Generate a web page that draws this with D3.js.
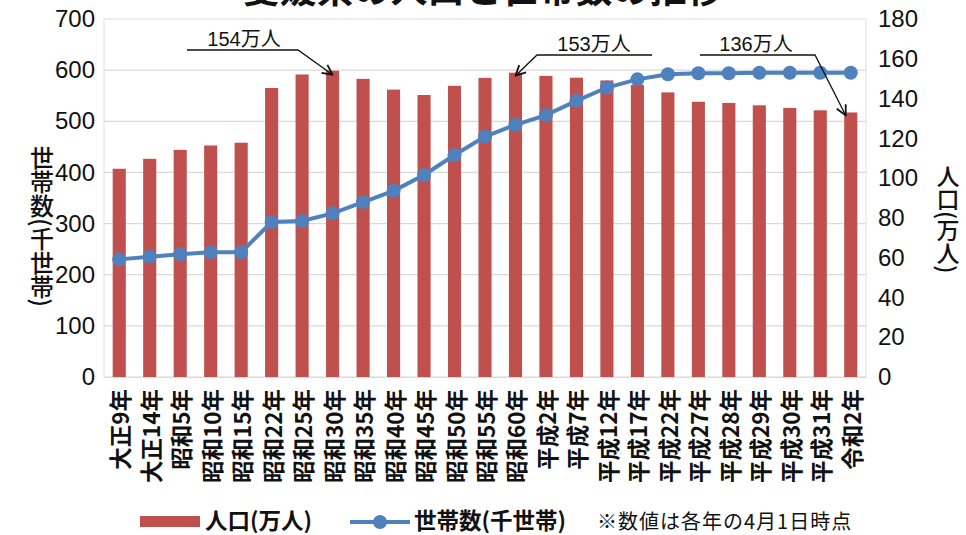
<!DOCTYPE html>
<html><head><meta charset="utf-8">
<script src="https://cdn.jsdelivr.net/npm/d3@7/dist/d3.min.js"></script>
<style>
html,body{margin:0;padding:0;background:#fff;}
svg{display:block;}
</style>
</head><body>
<svg id="c" width="966" height="535"></svg>
<script>
const categories = ["大正9年","大正14年","昭和5年","昭和10年","昭和15年","昭和22年","昭和25年","昭和30年","昭和35年","昭和40年","昭和45年","昭和50年","昭和55年","昭和60年","平成2年","平成7年","平成12年","平成17年","平成22年","平成27年","平成28年","平成29年","平成30年","平成31年","令和2年"];
// 人口(万人) - right axis
const population = [104.7,109.7,114.2,116.4,117.8,145.3,152.1,154.0,149.9,144.5,141.8,146.4,150.4,153.0,151.4,150.5,149.1,146.8,143.1,138.4,137.8,136.6,135.3,134.1,133.0];
// 世帯数(千世帯) - left axis
const households = [230,235,240,244,244,303,305,320,342,364,395,434,470,493,512,540,566,582,592,594,594,595,595,595,595];
const leftTicks = [0,100,200,300,400,500,600,700];
const rightTicks = [0,20,40,60,80,100,120,140,160,180];
const annotations = [
  {label:"154万人", cat:"昭和30年"},
  {label:"153万人", cat:"昭和60年"},
  {label:"136万人", cat:"令和2年"}
];

const svg = d3.select("#c");
const L = 104, R = 866, T = 19, B = 377;
const numFont = "'Liberation Sans Narrow','Liberation Sans',Arial,'Noto Sans CJK JP',sans-serif";
const cjkFont = "'Noto Sans CJK JP',sans-serif";
const red = "#C0504D", blue = "#4F81BD";

const x = d3.scaleBand().domain(categories).range([L, R]).paddingInner(0.57).paddingOuter(0.285);
const yL = d3.scaleLinear().domain([0,700]).range([B, T]);
const yR = d3.scaleLinear().domain([0,180]).range([B, T]);
const cx = c => x(c) + x.bandwidth()/2;

// title (cut off at top, as in the reference)
svg.append("text").attr("x", 483).attr("y", 3).attr("text-anchor","middle")
  .style("font-family", cjkFont).style("font-weight","bold").style("font-size","37px").attr("fill","#111")
  .text("愛媛県の人口と世帯数の推移");

// gridlines
svg.append("g").selectAll("line").data(leftTicks).join("line")
  .attr("x1", L).attr("x2", R).attr("y1", d=>yL(d)).attr("y2", d=>yL(d))
  .attr("stroke", "#d9d9d9").attr("stroke-width", 1.2);
svg.append("line").attr("x1",L).attr("x2",L).attr("y1",T).attr("y2",B).attr("stroke","#e0e0e0");
svg.append("line").attr("x1",R).attr("x2",R).attr("y1",T).attr("y2",B).attr("stroke","#e0e0e0");

// left axis
const gl = svg.append("g").attr("transform", `translate(${L},0)`)
  .call(d3.axisLeft(yL).tickValues(leftTicks).tickSize(0).tickPadding(9));
gl.select(".domain").remove();
gl.selectAll("text").style("font-family", numFont).style("font-size","24px").attr("fill","#111");

// right axis
const gr = svg.append("g").attr("transform", `translate(${R},0)`)
  .call(d3.axisRight(yR).tickValues(rightTicks).tickSize(0).tickPadding(12));
gr.select(".domain").remove();
gr.selectAll("text").style("font-family", numFont).style("font-size","24px").attr("fill","#111");

// x axis labels
const gx = svg.append("g").attr("transform", `translate(0,${B})`)
  .call(d3.axisBottom(x).tickSize(0));
gx.select(".domain").attr("stroke","#d9d9d9");
gx.selectAll("text")
  .style("font-family", cjkFont).style("font-weight","bold").style("font-size","22.5px").attr("fill","#111")
  .attr("text-anchor","end").attr("dy", null).attr("y", 0)
  .attr("transform", "translate(0,12) rotate(-90)")
  .attr("dominant-baseline","central").attr("x", 0);

// bars
svg.append("g").selectAll("rect").data(categories).join("rect")
  .attr("x", d=>x(d)).attr("width", x.bandwidth())
  .attr("y", (d,i)=>yR(population[i])).attr("height", (d,i)=>B - yR(population[i]))
  .attr("fill", red);

// line
const line = d3.line().x((d,i)=>cx(categories[i])).y(d=>yL(d));
svg.append("path").datum(households).attr("d", line)
  .attr("fill","none").attr("stroke", blue).attr("stroke-width", 4);
svg.append("g").selectAll("circle").data(households).join("circle")
  .attr("cx", (d,i)=>cx(categories[i])).attr("cy", d=>yL(d)).attr("r", 7).attr("fill", blue);

// annotations
const defs = svg.append("defs");
defs.append("marker").attr("id","ah").attr("viewBox","0 0 12 12").attr("refX",11).attr("refY",6)
  .attr("markerWidth",12).attr("markerHeight",12).attr("markerUnits","userSpaceOnUse").attr("orient","auto")
  .append("path").attr("d","M1,1 L11,6 L1,11").attr("fill","none").attr("stroke","#111").attr("stroke-width",1.8);

const annLayout = [
  {tx:244, ty:46, hx1:187, hx2:298, hy:50, dx:0, dy:4},
  {tx:594, ty:51, hx1:537, hx2:652, hy:55, dx:0, dy:3, left:true},
  {tx:756, ty:51, hx1:700, hx2:815, hy:55, dx:-5, dy:3}
];
annotations.forEach((a,k)=>{
  const p = annLayout[k];
  const i = categories.indexOf(a.cat);
  const tipX = cx(a.cat) + p.dx, tipY = yR(population[i]) + p.dy;
  const elbowX = p.left ? p.hx1 : p.hx2;
  svg.append("path")
    .attr("d", `M${p.left?p.hx2:p.hx1},${p.hy} L${elbowX},${p.hy} L${tipX},${tipY}`)
    .attr("fill","none").attr("stroke","#111").attr("stroke-width",1.3).attr("marker-end","url(#ah)");
  svg.append("text").attr("x", p.tx).attr("y", p.ty).attr("text-anchor","middle")
    .style("font-family", numFont).style("font-size","20px").attr("fill","#111").text(a.label);
});

// axis titles (vertical writing, upright characters)
svg.append("text").attr("x", 42).attr("y", 146)
  .style("writing-mode","vertical-rl").style("font-family", cjkFont).style("font-size","24px").style("font-weight","500")
  .attr("fill","#111").text("世帯数(千世帯)");
svg.append("text").attr("x", 948).attr("y", 165)
  .style("writing-mode","vertical-rl").style("font-family", cjkFont).style("font-size","23px").style("font-weight","500")
  .attr("fill","#111").text("人口(万人)");

// legend
const lg = svg.append("g");
lg.append("rect").attr("x",140).attr("y",516).attr("width",60).attr("height",11).attr("fill",red);
lg.append("text").attr("x",205).attr("y",529)
  .style("font-family", cjkFont).style("font-weight","bold").style("font-size","22.5px").attr("fill","#111").text("人口(万人)");
lg.append("line").attr("x1",350).attr("x2",410).attr("y1",522).attr("y2",522).attr("stroke",blue).attr("stroke-width",4);
lg.append("circle").attr("cx",380).attr("cy",522).attr("r",7).attr("fill",blue);
lg.append("text").attr("x",414).attr("y",529)
  .style("font-family", cjkFont).style("font-weight","bold").style("font-size","22.5px").attr("fill","#111").text("世帯数(千世帯)");
lg.append("text").attr("x",597).attr("y",529)
  .style("font-family", cjkFont).style("font-size","20px").style("letter-spacing","1px").attr("fill","#111").text("※数値は各年の4月1日時点");
</script>
</body></html>
